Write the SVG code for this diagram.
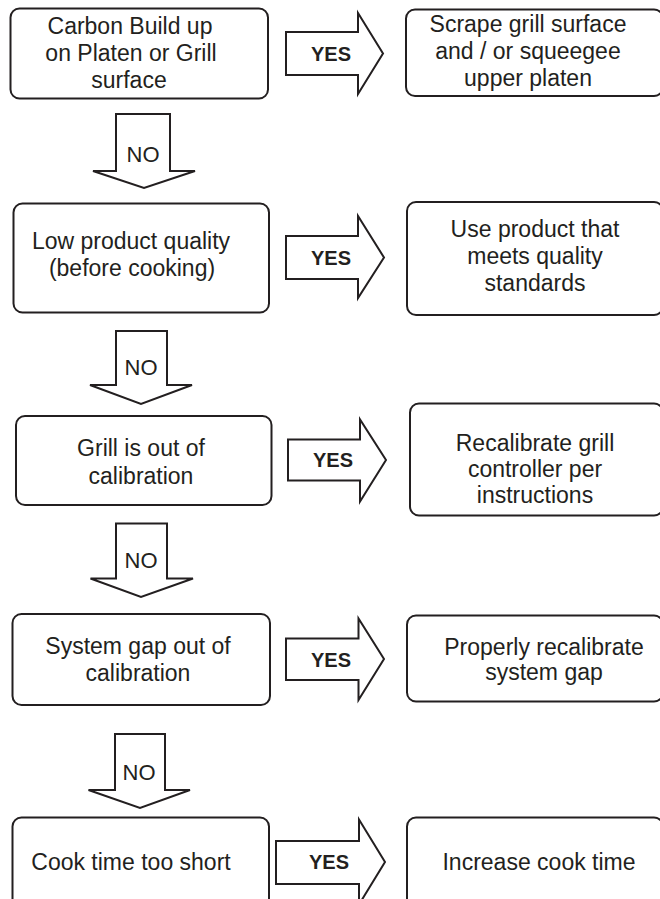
<svg xmlns="http://www.w3.org/2000/svg" width="660" height="899" viewBox="0 0 660 899">
<style>
.box{fill:#fff;stroke:#231f20;stroke-width:2}
.arr{fill:#fff;stroke:#231f20;stroke-width:2;stroke-linejoin:miter}
text{font-family:"Liberation Sans",Arial,sans-serif;font-size:23px;fill:#231f20;text-anchor:middle}
.yes{font-size:20px;font-weight:bold}
.no{font-size:22px}
</style>
<rect width="660" height="899" fill="#fff"/>
<g id="connectors">
<g id="yes1"><polygon class="arr" points="286,32 358,32 358,13 383,53.5 358,94 358,75 286,75"/><text class="yes" x="331" y="61">YES</text></g>
<g id="no1"><polygon class="arr" points="116,114 170,114 170,171 195,171 144,188 93,171 116,171"/><text class="no" x="143" y="162">NO</text></g>
<g id="yes2"><polygon class="arr" points="286,236 358,236 358,216 384,257.5 358,298 358,279 286,279"/><text class="yes" x="331" y="265">YES</text></g>
<g id="no2"><polygon class="arr" points="116,331 167,331 167,385 192,385 141,404 90,385 116,385"/><text class="no" x="141" y="375">NO</text></g>
<g id="yes3"><polygon class="arr" points="288,439.5 360,439.5 360,419.5 386,460 360,501.5 360,480.5 288,480.5"/><text class="yes" x="333" y="467">YES</text></g>
<g id="no3"><polygon class="arr" points="116,523.5 167,523.5 167,578.5 193,578.5 141,597 90.5,578.5 116,578.5"/><text class="no" x="141" y="568">NO</text></g>
<g id="yes4"><polygon class="arr" points="286,638.5 358.5,638.5 358.5,618.5 384,659 358.5,700 358.5,680 286,680"/><text class="yes" x="331" y="667">YES</text></g>
<g id="no4"><polygon class="arr" points="115,734 165,734 165,790 190,790 140,808 88.5,790 115,790"/><text class="no" x="139" y="780">NO</text></g>
<g id="yes5"><polygon class="arr" points="276,841 359,841 359,819.5 385,862 359,904.5 359,884 276,884"/><text class="yes" x="329" y="869">YES</text></g>
</g>
<g id="q1"><rect class="box" x="10.5" y="8.5" width="257.5" height="90" rx="9"/><text x="130" y="34">Carbon Build up</text><text x="131" y="61">on Platen or Grill</text><text x="129" y="88">surface</text></g>
<g id="a1"><rect class="box" x="406" y="9.5" width="257" height="86.5" rx="9"/><text x="528" y="32">Scrape grill surface</text><text x="528" y="59">and / or squeegee</text><text x="528" y="86">upper platen</text></g>
<g id="q2"><rect class="box" x="13.5" y="203.5" width="255.5" height="109" rx="9"/><text x="131" y="249">Low product quality</text><text x="132" y="276">(before cooking)</text></g>
<g id="a2"><rect class="box" x="407" y="202" width="256" height="113" rx="9"/><text x="535" y="237">Use product that</text><text x="535" y="264">meets quality</text><text x="535" y="291">standards</text></g>
<g id="q3"><rect class="box" x="16" y="416" width="255.5" height="89" rx="9"/><text x="141" y="456">Grill is out of</text><text x="141" y="484">calibration</text></g>
<g id="a3"><rect class="box" x="410" y="403.5" width="253" height="112" rx="9"/><text x="535" y="451">Recalibrate grill</text><text x="535" y="477">controller per</text><text x="535" y="503">instructions</text></g>
<g id="q4"><rect class="box" x="12.5" y="614" width="257.5" height="91" rx="9"/><text x="138" y="654">System gap out of</text><text x="138" y="681">calibration</text></g>
<g id="a4"><rect class="box" x="407" y="615.5" width="256" height="86" rx="9"/><text x="544" y="655">Properly recalibrate</text><text x="544" y="680">system gap</text></g>
<g id="q5"><rect class="box" x="12.5" y="817.5" width="256.5" height="100" rx="9"/><text x="131" y="870">Cook time too short</text></g>
<g id="a5"><rect class="box" x="407" y="817.5" width="256" height="100" rx="9"/><text x="539" y="870">Increase cook time</text></g>
</svg>
